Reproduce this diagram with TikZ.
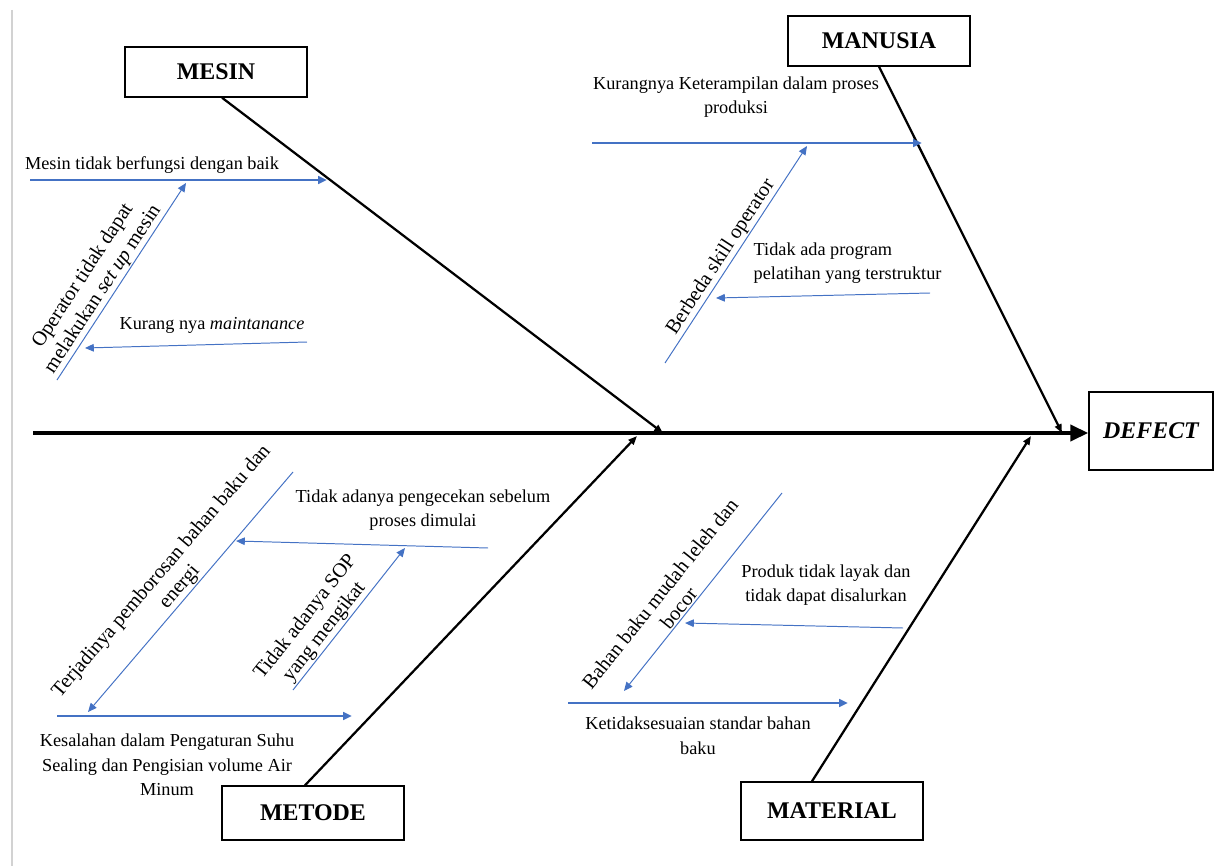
\documentclass[tikz,border=0pt]{standalone}
\usepackage{fontspec}
\setmainfont{Liberation Serif}
\usetikzlibrary{arrows.meta}
\definecolor{azul}{RGB}{68,114,196}
\tikzset{
  >={Triangle[length=0.22cm,width=0.19cm]},
  kategori/.style={draw, line width=1pt, fill=white, minimum width=4.55cm, minimum height=1.25cm, font=\fontsize{17}{20}\selectfont\bfseries},
  espina/.style={line width=2.8pt, -{Triangle[length=0.45cm,width=0.4cm]}},
  hueso/.style={line width=1.6pt, -{Triangle[length=0.22cm,width=0.17cm]}},
  causa/.style={azul, line width=1.8pt, ->},
  subcausa/.style={azul, line width=0.7pt},
  texto/.style={text=black, font=\fontsize{13}{17.5}\selectfont, align=center, inner sep=1pt},
  textogiro/.style={texto, font=\fontsize{14.5}{17}\selectfont, sloped, above},
}
\begin{document}
\begin{tikzpicture}[x=0.025cm, y=-0.025cm]
    \useasboundingbox (0,0) rectangle (1215,866);
    % Borde de la página
    \draw[gray!35, line width=1.5pt] (12,10) -- (12,866);

    % Espina principal y efecto
    \node[kategori, minimum width=3.1cm, minimum height=1.95cm, font=\fontsize{17}{20}\selectfont\bfseries\itshape] (defect) at (1151,431) {DEFECT};
    \coordinate (cola) at (33,433);
    \draw[espina] (cola) -- (cola -| defect.west);

    % Categorias
    \node[kategori] (mesin) at (216,72) {MESIN};
    \node[kategori] (manusia) at (879,41) {MANUSIA};
    \node[kategori, minimum height=1.35cm] (metode) at (313,813) {METODE};
    \node[kategori, minimum height=1.45cm] (material) at (832,811) {MATERIAL};

    % Huesos hacia la espina
    \coordinate (pmesin) at (663,433);
    \coordinate (pmanusia) at (1062,433);
    \coordinate (pmetode) at (637,436);
    \coordinate (pmaterial) at (1031,436);
    \draw[hueso] ([xshift=0.15cm]mesin.south) -- (pmesin);
    \draw[hueso] (manusia.south) -- (pmanusia);
    \draw[hueso] ([xshift=-0.2cm]metode.north) -- (pmetode);
    \draw[hueso] ([xshift=-0.5cm]material.north) -- (pmaterial);

    % MESIN
    \coordinate (m1a) at (30,180); \coordinate (m1b) at (327,180);
    \draw[causa] (m1a) -- (m1b);
    \node[texto] (t-m1) at (152,165) {Mesin tidak berfungsi dengan baik};
    \coordinate (m2a) at (57,380); \coordinate (m2b) at (186,183);
    \draw[subcausa, ->] (m2a) -- node[textogiro, pos=0.43] (t-m2) {Operator tidak dapat\\melakukan \textit{set up} mesin} (m2b);
    \coordinate (m3a) at (307,342); \coordinate (m3b) at (85,348);
    \draw[subcausa, ->] (m3a) -- (m3b);
    \node[texto] (t-m3) at (212,325) {Kurang nya \textit{maintanance}};

    % MANUSIA
    \coordinate (h1a) at (592,143); \coordinate (h1b) at (922,143);
    \draw[causa] (h1a) -- (h1b);
    \node[texto] (t-h1) at (736,97) {Kurangnya Keterampilan dalam proses\\produksi};
    \coordinate (h2a) at (665,363); \coordinate (h2b) at (807,146);
    \draw[subcausa, ->] (h2a) -- node[textogiro, pos=0.46] (t-h2) {Berbeda skill operator} (h2b);
    \coordinate (h3a) at (930,293); \coordinate (h3b) at (716,298);
    \draw[subcausa, ->] (h3a) -- (h3b);
    \node[texto, align=left, anchor=west] (t-h3) at (752,263) {Tidak ada program\\pelatihan yang terstruktur};

    % METODE
    \coordinate (d1a) at (57,716); \coordinate (d1b) at (352,716);
    \draw[causa] (d1a) -- (d1b);
    \node[texto] (t-d1) at (167,765) {Kesalahan dalam Pengaturan Suhu\\Sealing dan Pengisian volume Air\\Minum};
    \coordinate (d2a) at (293,472); \coordinate (d2b) at (88,712);
    \draw[subcausa, <-] (d2b) -- node[textogiro, pos=0.49] (t-d2) {Terjadinya pemborosan bahan baku dan\\energi} (d2a);
    \coordinate (d3a) at (488,548); \coordinate (d3b) at (236,541);
    \draw[subcausa, ->] (d3a) -- (d3b);
    \node[texto] (t-d3) at (423,510) {Tidak adanya pengecekan sebelum\\proses dimulai};
    \coordinate (d4a) at (293,690); \coordinate (d4b) at (405,548);
    \draw[subcausa, ->] (d4a) -- node[textogiro, pos=0.36] (t-d4) {Tidak adanya SOP\\yang mengikat} (d4b);

    % MATERIAL
    \coordinate (r1a) at (568,703); \coordinate (r1b) at (848,703);
    \draw[causa] (r1a) -- (r1b);
    \node[texto] (t-r1) at (698,736) {Ketidaksesuaian standar bahan\\baku};
    \coordinate (r2a) at (782,493); \coordinate (r2b) at (624,691);
    \draw[subcausa, <-] (r2b) -- node[textogiro, pos=0.39] (t-r2) {Bahan baku mudah leleh dan\\bocor} (r2a);
    \coordinate (r3a) at (903,628); \coordinate (r3b) at (685,623);
    \draw[subcausa, ->] (r3a) -- (r3b);
    \node[texto] (t-r3) at (826,585) {Produk tidak layak dan\\tidak dapat disalurkan};
\end{tikzpicture}
\end{document}
